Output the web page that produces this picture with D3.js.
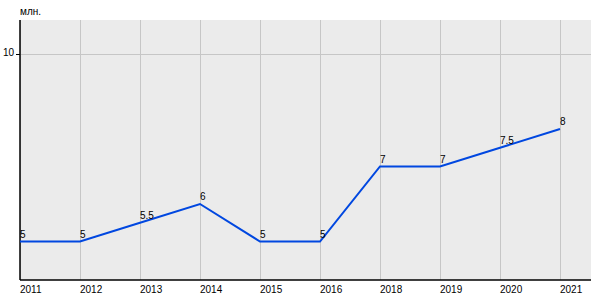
<!DOCTYPE html>
<html><head><meta charset="utf-8">
<script src="https://cdn.jsdelivr.net/npm/d3@7"></script>
<style>body{margin:0;background:#fff}svg{display:block;font-family:"Liberation Sans",Arial,sans-serif}</style>
</head><body><svg id="c" width="600" height="300"></svg>
<script>
const years = ["2011","2012","2013","2014","2015","2016","2018","2019","2020","2021"];
const values = [5, 5, 5.5, 6, 5, 5, 7, 7, 7.5, 8];
const valueLabels = ["5","5","5.5","6","5","5","7","7","7.5","8"];
const yTicks = [10];
const unitLabel = "млн.";

(function(){
const svg = d3.select("#c");
const pL = 20, pR = 591, pT = 20, pB = 280;
const x = d3.scalePoint().domain(years).range([20, 560]);
const y = d3.scaleLinear().domain([4, 10]).range([279, 54]);

svg.append("rect").attr("x", pL).attr("y", pT).attr("width", pR - pL).attr("height", pB - pT).attr("fill", "#ebebeb");

svg.append("g").selectAll("line").data(years).join("line")
  .attr("x1", d => x(d)).attr("x2", d => x(d)).attr("y1", pT).attr("y2", pB)
  .attr("stroke", "#c6c6c6").attr("stroke-width", 1).attr("shape-rendering","crispEdges");
svg.append("g").selectAll("line").data(yTicks).join("line")
  .attr("x1", pL).attr("x2", pR).attr("y1", d => y(d)).attr("y2", d => y(d))
  .attr("stroke", "#c6c6c6").attr("stroke-width", 1).attr("shape-rendering","crispEdges");

const ya = svg.append("g").attr("transform", `translate(${pL},0)`)
  .call(d3.axisLeft(y).tickValues(yTicks).tickFormat(d3.format("d")).tickSize(4).tickPadding(2));
ya.select(".domain").remove();
ya.selectAll("text").attr("font-size", 10).attr("fill", "#000").attr("dy", "0.1em")
  .attr("font-family","Liberation Sans, Arial, sans-serif");
ya.selectAll("line").attr("stroke", "#000");
svg.append("line").attr("x1", pL).attr("x2", pL).attr("y1", pT).attr("y2", pB)
  .attr("stroke", "#000").attr("stroke-width", 1.5);
svg.append("line").attr("x1", pL).attr("x2", pR).attr("y1", pB).attr("y2", pB)
  .attr("stroke", "#000").attr("stroke-width", 1.5);

svg.append("g").selectAll("text").data(years).join("text")
  .attr("x", d => x(d)).attr("y", 293).attr("font-size", 10).attr("fill", "#000")
  .attr("text-anchor", "start").text(d => d);

svg.append("text").attr("x", 20).attr("y", 15).attr("font-size", 10).attr("fill", "#000").text(unitLabel);

const line = d3.line().x((d, i) => x(years[i])).y(d => y(d));
svg.append("path").datum(values).attr("d", line).attr("fill", "none")
  .attr("stroke", "#0047e0").attr("stroke-width", 2);

svg.append("g").selectAll("text").data(values).join("text")
  .attr("x", (d, i) => x(years[i])).attr("y", d => y(d) - 4)
  .attr("font-size", 10).attr("fill", "#000").text((d, i) => valueLabels[i]);
})();
</script></body></html>
